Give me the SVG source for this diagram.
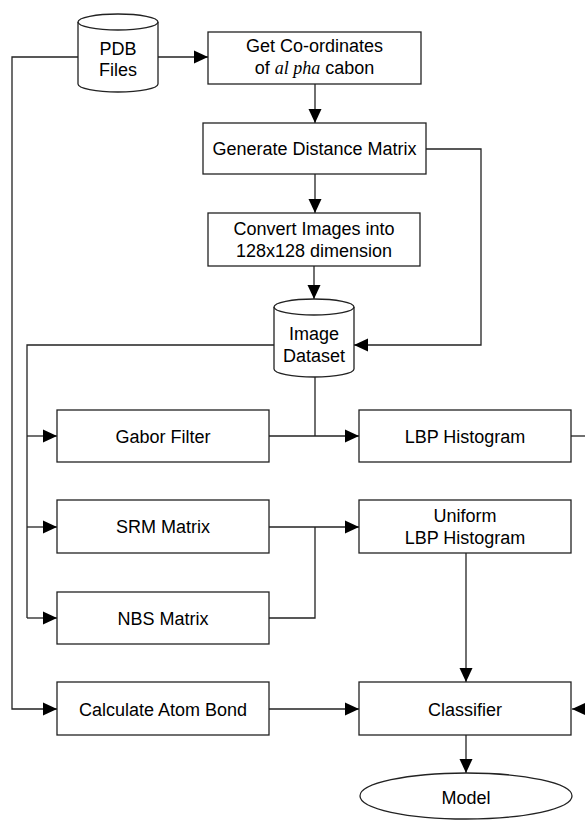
<svg xmlns="http://www.w3.org/2000/svg" width="585" height="821" viewBox="0 0 585 821">
<defs>
<marker id="arr" viewBox="0 0 14 14" refX="14" refY="7" markerWidth="14" markerHeight="14" markerUnits="userSpaceOnUse" orient="auto">
<path d="M0,0.5 L14,7 L0,13.5 z" fill="#000"/>
</marker>
<style>
.box{fill:#fff;stroke:#222;stroke-width:1.3}
.t{font-family:"Liberation Sans",Arial,sans-serif;font-size:18px;fill:#000;text-anchor:middle}
.m{font-family:"Liberation Serif","Times New Roman",serif;font-style:italic}
.c{fill:none;stroke:#222;stroke-width:1.3}
.ca{fill:none;stroke:#222;stroke-width:1.3;marker-end:url(#arr)}
</style>
</defs>
<rect width="585" height="821" fill="#fff"/>
<g id="connectors">
<path class="ca" d="M158,57 H208"/>
<path class="ca" d="M78,57 H12 V709 H57"/>
<path class="ca" d="M315,84 V123"/>
<path class="ca" d="M315,174 V213"/>
<path class="ca" d="M426,149 H481 V345 H354"/>
<path class="ca" d="M314,266 V299"/>
<path class="c" d="M274,345 H27 V618"/>
<path class="ca" d="M27,436 H57"/>
<path class="ca" d="M27,527 H57"/>
<path class="ca" d="M27,618 H57"/>
<path class="c" d="M315,377 V436"/>
<path class="ca" d="M269,436 H359"/>
<path class="ca" d="M269,527 H359"/>
<path class="c" d="M269,618 H315 V527"/>
<path class="ca" d="M466,553 V682"/>
<path class="ca" d="M269,709 H359"/>
<path class="c" d="M571,436 H586"/>
<path class="ca" d="M586,709 H572"/>
<path class="ca" d="M466,735 V773"/>
</g>
<g id="pdb">
<path class="box" d="M78,22 a40,8 0 0 1 80,0 v62 a40,8 0 0 1 -80,0 z"/>
<path class="c" d="M78,22 a40,8 0 0 0 80,0"/>
<text class="t" x="118" y="55">PDB</text>
<text class="t" x="118" y="76">Files</text>
</g>
<g id="getcoord">
<rect class="box" x="208" y="32" width="213" height="52"/>
<text class="t" x="314.5" y="52">Get Co-ordinates</text>
<text class="t" x="314.5" y="74">of <tspan class="m">al pha</tspan> cabon</text>
</g>
<g id="gendist">
<rect class="box" x="203" y="123" width="223" height="51"/>
<text class="t" x="314.5" y="155">Generate Distance Matrix</text>
</g>
<g id="convert">
<rect class="box" x="208" y="213" width="212" height="53"/>
<text class="t" x="314" y="235">Convert Images into</text>
<text class="t" x="314" y="257">128x128 dimension</text>
</g>
<g id="imagedataset">
<path class="box" d="M274,307 a40,8 0 0 1 80,0 v62 a40,8 0 0 1 -80,0 z"/>
<path class="c" d="M274,307 a40,8 0 0 0 80,0"/>
<text class="t" x="314" y="340">Image</text>
<text class="t" x="314" y="362">Dataset</text>
</g>
<g id="gabor">
<rect class="box" x="57" y="410" width="212" height="52"/>
<text class="t" x="163" y="442.5">Gabor Filter</text>
</g>
<g id="lbp">
<rect class="box" x="359" y="410" width="212" height="52"/>
<text class="t" x="465" y="442.5">LBP Histogram</text>
</g>
<g id="srm">
<rect class="box" x="57" y="500" width="212" height="53"/>
<text class="t" x="163" y="533">SRM Matrix</text>
</g>
<g id="uniform">
<rect class="box" x="359" y="500" width="212" height="53"/>
<text class="t" x="465" y="522">Uniform</text>
<text class="t" x="465" y="544">LBP Histogram</text>
</g>
<g id="nbs">
<rect class="box" x="57" y="592" width="212" height="52"/>
<text class="t" x="163" y="624.5">NBS Matrix</text>
</g>
<g id="atombond">
<rect class="box" x="57" y="682" width="212" height="53"/>
<text class="t" x="163" y="715.5">Calculate Atom Bond</text>
</g>
<g id="classifier">
<rect class="box" x="359" y="682" width="212" height="53"/>
<text class="t" x="465" y="715.5">Classifier</text>
</g>
<g id="model">
<ellipse class="box" cx="466" cy="796" rx="106" ry="23"/>
<text class="t" x="466" y="804">Model</text>
</g>
</svg>
